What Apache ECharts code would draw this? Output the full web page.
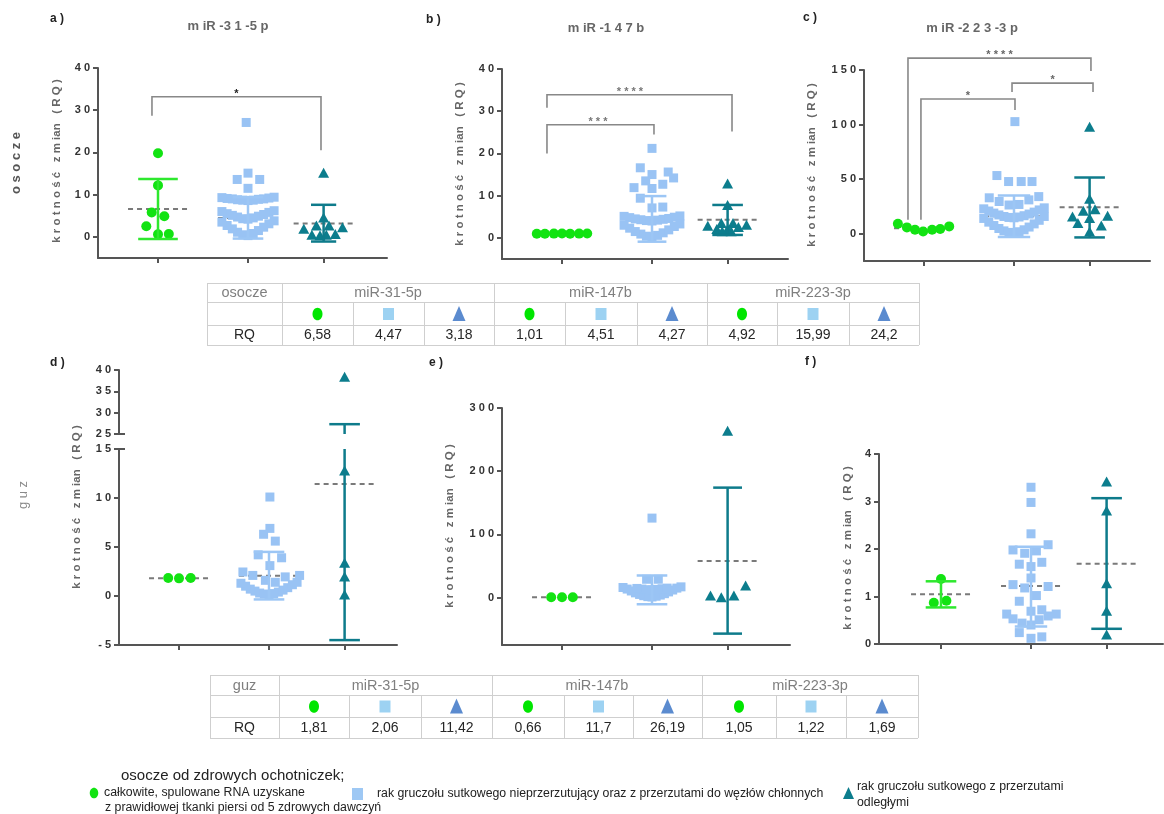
<!DOCTYPE html>
<html>
<head>
<meta charset="utf-8">
<title>krotność zmian (RQ)</title>
<script src="https://cdn.jsdelivr.net/npm/echarts@6.0.0/dist/echarts.min.js"></script>
<style>
html,body{margin:0;padding:0;background:#fff;}
#chart{width:1164px;height:814px;}
</style>
</head>
<body>
<div id="chart"></div>
<script>
// ================= DATA =================
// x position of the three groups (green: healthy, blue: non-metastatic/lymph node, teal: distant metastases)
const groupX = [1, 2, 2.84];

// Points: [horizontal offset in % of group spacing, RQ]
// Dense rows: explicit RQ values, spread side by side inside a row
// ---- a) miR-31-5p, osocze
const aGreen = [[0,19.8],[0,12.2],[-7,5.8],[7,4.9],[-13,2.5],[0,0.6],[12,0.7]];
const aBlue = [[-2,27.1],[0,15.1],[-12,13.6],[13,13.6],[0,11.5]];
const aBlueRows = [
  [8.6,8.7,8.7,8.8,8.9,9.0,9.0,9.1,9.2,9.3,9.4],
  [4.2,4.3,4.5,4.7,4.9,5.1,5.3,5.5,5.8,6.0,6.2],
  [0.3,0.5,0.8,1.1,1.5,1.9,2.3,2.7,3.1,3.5,3.8]
];
const aTeal = [[0,15.2],[0,4.6],[-22,1.9],[-8,2.7],[6,2.7],[21,2.3],[-13,0.5],[-4,0.4],[3,0.5],[13,0.7]];
const aMean = [6.58, 4.47, 3.18];
const aSD = [[-0.5,13.7],[-0.4,9.4],[-1.1,7.6]];
const aSig = [[0.933,28.7,2.811,20.5,33.2,1.872]];   // [x left, left leg end, x right, right leg end, bar level, star x]
const aStars = ['*'];

// ---- b) miR-147b, osocze
const bGreen = [[-28,1.0],[-19,1.0],[-9,1.01],[0,1.02],[9,1.0],[19,1.01],[28,1.03]];
const bBlue = [[0,21.2],[-13,16.6],[18,15.6],[0,15.0],[24,14.2],[-7,13.5],[12,12.7],[-20,11.9],[0,11.7],[-13,9.4],[0,7.1],[12,7.3]];
const bBlueRows = [
  [4.0,4.1,4.2,4.3,4.4,4.5,4.6,4.8,4.9,5.1,5.2],
  [0.2,0.4,0.6,0.9,1.2,1.5,1.9,2.3,2.7,3.0,3.3]
];
const bTeal = [[0,12.9],[0,7.8],[-22,2.9],[-12,2.1],[-7,3.5],[0,2.1],[6,3.5],[12,2.6],[21,3.1],[-6,1.6],[4,1.6]];
const bMean = [1.01, 4.51, 4.27];
const bSD = [null,[-0.9,9.9],[0.7,7.8]];
const bSig = [[0.833,30.8,2.889,25.2,33.9,1.755],[0.833,20.0,2.022,24.5,26.8,1.40]];
const bStars = ['* * * *','* * *'];

// ---- c) miR-223-3p, osocze
const cGreen = [[-29,9.1],[-19,5.8],[-10,3.7],[-1,2.1],[9,3.7],[18,4.3],[28,6.7]];
const cBlue = [[1,102.7],[-19,53.3],[-6,47.8],[8,47.8],[20,47.8]];
const cBlueRows = [
  [26.3,26.8,29.5,31.0,32.9,34.0],
  [14.6,14.9,15.3,15.8,16.5,17.2,18.0,18.9,19.8,20.8,21.8,22.8,23.7],
  [0.9,1.2,1.8,2.6,3.6,4.8,6.1,7.5,9.0,10.6,12.3,14.0,15.8]
];
const cTeal = [[0,98.1],[0,32],[-7,21],[6,22.5],[-19,15.8],[20,16.5],[-13,9.8],[0,14.4],[13,7.6],[0,2.1]];
const cMean = [4.92, 15.99, 24.2];
const cSD = [null,[-3,35],[-3.4,51.5]];
const cSig = [[0.822,12.8,2.855,149,160.9,1.839],[0.966,12.8,2.011,113.3,123.4,1.489],[1.978,129.8,2.878,129.8,138,2.428]];
const cStars = ['* * * *','*','*'];

// ---- d) miR-31-5p, guz (broken axis 15 | 25)
const dGreen = [[-12,1.84],[0,1.80],[13,1.84]];
const dBlue = [[1,10.1],[1,6.9],[-6,6.3],[7,5.6],[-12,4.2],[14,3.9],[1,3.1],[-29,2.45],[-18,2.1],[-4,1.6],[7,1.4],[18,1.95],[34,2.1]];
const dBlueRows = [[0.15,0.2,0.25,0.3,0.4,0.5,0.6,0.7,0.85,1.0,1.15,1.3,1.4]];
const dTeal = [[0,38.4],[0,12.8],[0,3.4],[0,2.0],[0,0.15]];
const dMean = [1.81, 2.06, 11.42];
const dSD = [null,[-0.35,4.5],[-4.5,27.3]];

// ---- e) miR-147b, guz
const eGreen = [[-12,0.66],[0,0.66],[12,0.66]];
const eBlue = [[0,125.8],[-6,29],[7,29]];
const eBlueRows = [
  [1,1.5,2.2,3,4,5,6.2,7.5,9,10.5,12,13.5,15,16,17],
  [12,12.5,13,13.5,14,14.5,15]
];
const eTeal = [[0,264],[20,19],[-19,3.2],[-7,0.6],[7,3.2]];
const eMean = [0.66, 12.2, 58.1];
const eSD = [null,[-10.5,35],[-57,174]];

// ---- f) miR-223-3p, guz
const fGreen = [[0,1.37],[-8,0.87],[6,0.91]];
const fBlue = [[0,3.30],[0,2.98],[0,2.32],[-20,1.98],[-7,1.91],[6,1.96],[19,2.09],[-13,1.68],[0,1.63],[12,1.72],
  [0,1.39],[-20,1.25],[-7,1.18],[19,1.21],[6,1.02],[-13,0.90],[0,0.69],[12,0.72],[-27,0.63],[-20,0.53],
  [-10,0.44],[0,0.40],[9,0.51],[19,0.59],[28,0.63],[-13,0.24],[0,0.12],[12,0.15]];
const fTeal = [[0,3.42],[0,2.81],[0,1.28],[0,0.70],[0,0.20]];
const fMean = [1.05, 1.22, 1.69];
const fSD = [[0.77,1.32],[0.37,2.05],[0.32,3.07]];

// ---- tables
const tableGenes = ['miR-31-5p','miR-147b','miR-223-3p'];
const rqPlasma = ['6,58','4,47','3,18','1,01','4,51','4,27','4,92','15,99','24,2'];
const rqTumor  = ['1,81','2,06','11,42','0,66','11,7','26,19','1,05','1,22','1,69'];

// ---- texts
const panelTitles = ['m iR -3 1 -5 p','m iR -1 4 7 b','m iR -2 2 3 -3 p'];
const panelLetters = ['a )','b )','c )','d )','e )','f )'];
const yName = 'k r o t n o ś ć   z m ian   ( R Q )';
const legendTitle = 'osocze od zdrowych ochotniczek;';
const legendGreen = ['całkowite, spulowane RNA uzyskane','z prawidłowej tkanki piersi od 5 zdrowych dawczyń'];
const legendBlue = 'rak gruczołu sutkowego nieprzerzutujący oraz z przerzutami do węzłów chłonnych';
const legendTeal = ['rak gruczołu sutkowego z przerzutami','odległymi'];

// ================= LAYOUT / STYLE =================
const FONT = '"Liberation Sans", Arial, Helvetica, sans-serif';
const COL = {green:'#12e312', blue:'#99c3f4', teal:'#0c7d8d'};
const ERRC = ['#2ee82e','#9cc6f5','#0e7b8b'];
const AX = '#555';
const SYM = {circle:10, rect:9, tri:[11,10]};

const PANELS = [
 {left:98,  top:68,  width:289, height:190, min:-5,  max:40,  ticks:[0,10,20,30,40], x0:60},
 {left:502, top:69,  width:286, height:190, min:-5,  max:40,  ticks:[0,10,20,30,40], x0:60},
 {left:864, top:70,  width:286, height:191, min:-25, max:150, ticks:[0,50,100,150], x0:60},
 {left:119, top:370, width:278, height:64,  min:25,  max:40,  ticks:[25,30,35,40], x0:60, noX:true},
 {left:119, top:449, width:278, height:196, min:-5,  max:15,  ticks:[-5,0,5,10,15], x0:60},
 {left:502, top:408, width:288, height:237, min:-75, max:300, ticks:[0,100,200,300], x0:60},
 {left:879, top:454, width:284, height:190, min:0,   max:4,   ticks:[0,1,2,3,4], x0:62},
];
PANELS.forEach(p => { p.xMin = 1 - p.x0/90; p.xMax = p.xMin + p.width/90; });

const spaced = v => String(v).split('').join(' ');

function layRow(vals, step){
  const s = vals.slice().sort((a,b)=>a-b), n = s.length, out = [];
  for(let k=0;k<n;k++){
    let off;
    if(n%2){ const m = Math.ceil(k/2); off = k===0 ? 0 : (k%2 ? -m : m); }
    else { const m = Math.floor(k/2)+0.5; off = k%2 ? m : -m; }
    out.push([off*step, s[k]]);
  }
  return out;
}
const pts = (g, list) => list.map(p => [groupX[g] + p[0]/100, p[1]]);
function rowPts(g, rows, steps){
  let out = [];
  rows.forEach((r,i) => layRow(r, steps[i]).forEach(p => out.push([groupX[g] + p[0]/100, p[1]])));
  return out;
}

const series = [];
function scatter(gi, symbol, size, color, data){
  series.push({type:'scatter', xAxisIndex:gi, yAxisIndex:gi, symbol, symbolSize:size, z:3, silent:true,
    itemStyle:{color, opacity:1, borderWidth:0}, data});
}
function meanSeries(gi, means){
  series.push({type:'custom', xAxisIndex:gi, yAxisIndex:gi, z:2, silent:true, clip:false,
    data: means.map((m,g) => [groupX[g], m]),
    renderItem:(params, api) => {
      const x = api.value(0), y = api.value(1);
      const a = api.coord([x-0.333, y]), b = api.coord([x+0.333, y]);
      return {type:'line', shape:{x1:a[0],y1:a[1],x2:b[0],y2:b[1]},
        style:{stroke:'#7a7a7a', lineWidth:2, lineDash:[5,4]}};
    }});
}
function errSeries(gi, items){
  series.push({type:'custom', xAxisIndex:gi, yAxisIndex:gi, z:4, silent:true, clip:false,
    data: items,
    renderItem:(params, api) => {
      const x=api.value(0), lo=api.value(1), hi=api.value(2), cw=api.value(3), tc=api.value(4), bc=api.value(5);
      const st = {stroke:ERRC[api.value(6)], lineWidth:2.5};
      const a = api.coord([x,lo]), b = api.coord([x,hi]);
      const ch = [{type:'line', shape:{x1:a[0],y1:a[1],x2:b[0],y2:b[1]}, style:st}];
      if(tc){ const l=api.coord([x-cw,hi]), r=api.coord([x+cw,hi]); ch.push({type:'line', shape:{x1:l[0],y1:l[1],x2:r[0],y2:r[1]}, style:st}); }
      if(bc){ const l=api.coord([x-cw,lo]), r=api.coord([x+cw,lo]); ch.push({type:'line', shape:{x1:l[0],y1:l[1],x2:r[0],y2:r[1]}, style:st}); }
      return {type:'group', children:ch};
    }});
}
function sdItems(sd, caps){
  const out = [];
  sd.forEach((s,g) => { if(s) out.push([groupX[g], s[0], s[1], caps[g]/100, 1, 1, g]); });
  return out;
}
function sigSeries(gi, sig, stars, starColor){
  series.push({type:'custom', xAxisIndex:gi, yAxisIndex:gi, z:5, silent:true, clip:false,
    data: sig,
    renderItem:(params, api) => {
      const xl=api.value(0), yl=api.value(1), xr=api.value(2), yr=api.value(3), yb=api.value(4), xs=api.value(5);
      const p1=api.coord([xl,yl]), p2=api.coord([xl,yb]), p3=api.coord([xr,yb]), p4=api.coord([xr,yr]), ps=api.coord([xs,yb]);
      return {type:'group', children:[
        {type:'polyline', shape:{points:[p1,p2,p3,p4]}, style:{stroke:'#888', lineWidth:1.6, fill:null}},
        {type:'text', x:ps[0], y:ps[1]-3, style:{text:stars[params.dataIndex], fill:starColor,
          font:'bold 11px '+FONT, align:'center', verticalAlign:'middle'}}
      ]};
    }});
}
function addPanel(gi, green, blue, blueRows, steps, teal, mean, sd, caps){
  meanSeries(gi, mean);
  scatter(gi, 'circle', SYM.circle, COL.green, pts(0, green));
  scatter(gi, 'rect', SYM.rect, COL.blue, rowPts(1, blueRows, steps).concat(pts(1, blue)));
  scatter(gi, 'triangle', SYM.tri, COL.teal, pts(2, teal));
  errSeries(gi, sdItems(sd, caps));
}

// panels a, b, c (plasma)
addPanel(0, aGreen, aBlue, aBlueRows, [5.8,5.8,5.8], aTeal, aMean, aSD, [22,17,14]);
sigSeries(0, aSig, aStars, '#222');
addPanel(1, bGreen, bBlue, bBlueRows, [6.2,6.2], bTeal, bMean, bSD, [17,16,17]);
sigSeries(1, bSig, bStars, '#777');
addPanel(2, cGreen, cBlue, cBlueRows, [11,5.6,5.6], cTeal, cMean, cSD, [17,18,17]);
sigSeries(2, cSig, cStars, '#666');

// panel d (broken axis: upper grid 3 for RQ >= 25, lower grid 4 otherwise)
{
  const up = p => p[1] >= 25, low = p => p[1] < 25;
  meanSeries(4, dMean);
  scatter(4, 'circle', SYM.circle, COL.green, pts(0, dGreen));
  scatter(4, 'rect', SYM.rect, COL.blue, rowPts(1, dBlueRows, [5.2]).concat(pts(1, dBlue)));
  scatter(4, 'triangle', SYM.tri, COL.teal, pts(2, dTeal.filter(low)));
  scatter(3, 'triangle', SYM.tri, COL.teal, pts(2, dTeal.filter(up)));
  const lowItems = [], upItems = [];
  dSD.forEach((s,g) => {
    if(!s) return;
    if(s[1] > 25){
      upItems.push([groupX[g], 25, s[1], 0.17, 1, 0, g]);
      lowItems.push([groupX[g], s[0], 15, 0.17, 0, 1, g]);
    } else lowItems.push([groupX[g], s[0], s[1], 0.17, 1, 1, g]);
  });
  errSeries(4, lowItems);
  errSeries(3, upItems);
  // axis break marks
  [[3,25],[4,15]].forEach(([gi,v]) => {
    series.push({type:'custom', xAxisIndex:gi, yAxisIndex:gi, z:6, silent:true, clip:false,
      data:[[PANELS[gi].xMin, v]],
      renderItem:(params, api) => {
        const c = api.coord([api.value(0), api.value(1)]);
        return {type:'line', shape:{x1:c[0]-4,y1:c[1],x2:c[0]+6,y2:c[1]}, style:{stroke:AX, lineWidth:2}};
      }});
  });
}
// panels e, f (tumour)
addPanel(5, eGreen, eBlue, eBlueRows, [4.6,5.6], eTeal, eMean, eSD, [17,17,16]);
addPanel(6, fGreen, fBlue, [], [], fTeal, fMean, fSD, [17,18,17]);

// ================= GRAPHIC (texts, tables, legend) =================
const G = [];
function T(text, x, y, font, color, align, rot){
  G.push({type:'text', x, y, rotation:rot||0, z:100, silent:true,
    style:{text, font, fill:color, align:align||'left', verticalAlign:'middle'}});
}
function L(x1,y1,x2,y2,color,w){
  G.push({type:'line', silent:true, z:90, shape:{x1,y1,x2,y2}, style:{stroke:color, lineWidth:w||1}});
}
// panel letters
[[50,19],[426,20],[803,18],[50,363],[429,363],[805,362]].forEach((p,i) =>
  T(panelLetters[i], p[0], p[1], 'bold 12px '+FONT, '#222', 'left'));
// titles
[[228,26],[606,28],[972,28]].forEach((p,i) => T(panelTitles[i], p[0], p[1], 'bold 13px '+FONT, '#666', 'center'));
// y axis names
[[57,161],[460,164],[812,165],[77,507],[450,526],[848,548]].forEach(p =>
  T(yName, p[0], p[1], 'bold 11.5px '+FONT, '#666', 'center', Math.PI/2));
// row labels
T('o s o c z e', 16, 163, 'bold 13px '+FONT, '#555', 'center', Math.PI/2);
T('g u z', 23, 495, '13px '+FONT, '#8a8a8a', 'center', Math.PI/2);

// tables
const LINE = '#cfcfcf';
function icon(kind, cx, cy, scale){
  const s = scale || 1;
  if(kind === 0) G.push({type:'ellipse', silent:true, z:95, shape:{cx, cy, rx:5*s, ry:6.3*s}, style:{fill:'#00e600'}});
  else if(kind === 1) G.push({type:'rect', silent:true, z:95, shape:{x:cx-5.5*s, y:cy-6*s, width:11*s, height:12*s}, style:{fill:'#9dd2f2'}});
  else G.push({type:'polygon', silent:true, z:95, shape:{points:[[cx,cy-8*s],[cx-6.5*s,cy+7*s],[cx+6.5*s,cy+7*s]]}, style:{fill:'#5b8bcf'}});
}
function drawTable(cols, ys, label, vals){
  const [y0,y1,y2,y3] = ys, Lx = cols[0], Rx = cols[10];
  ys.forEach(y => L(Lx, y+0.5, Rx, y+0.5, LINE));
  [0,1,4,7,10].forEach(i => L(cols[i]+0.5, y0, cols[i]+0.5, y3, LINE));
  [2,3,5,6,8,9].forEach(i => L(cols[i]+0.5, y1, cols[i]+0.5, y3, LINE));
  const hy = (y0+y1)/2+0.5, iy = (y1+y2)/2+0.5, vy = (y2+y3)/2+0.5;
  const HF = '14.5px '+FONT, VF = '14px '+FONT;
  T(label, (cols[0]+cols[1])/2, hy, HF, '#7f7f7f', 'center');
  T('RQ', (cols[0]+cols[1])/2, vy, VF, '#262626', 'center');
  tableGenes.forEach((g,k) => T(g, (cols[1+3*k]+cols[4+3*k])/2, hy, HF, '#7f7f7f', 'center'));
  for(let k=0;k<9;k++){
    const cx = (cols[1+k]+cols[2+k])/2;
    icon(k%3, cx, iy);
    T(vals[k], cx, vy, VF, '#262626', 'center');
  }
}
drawTable([207,282,353,424,494,565,637,707,777,849,919],[283,302,325,345],'osocze',rqPlasma);
drawTable([210,279,349,421,492,564,633,702,776,846,918],[675,695,717,738],'guz',rqTumor);

// legend
T(legendTitle, 121, 776, '15px '+FONT, '#222', 'left');
icon(0, 94, 793, 0.85); G[G.length-1].style.fill = COL.green;
T(legendGreen[0], 104, 793, '12.3px '+FONT, '#222', 'left');
T(legendGreen[1], 105, 808, '12.3px '+FONT, '#222', 'left');
G.push({type:'rect', silent:true, z:95, shape:{x:352, y:788, width:11, height:12}, style:{fill:'#9ec8f4'}});
T(legendBlue, 377, 794, '12.3px '+FONT, '#222', 'left');
G.push({type:'polygon', silent:true, z:95, shape:{points:[[848.5,787],[843,799],[854,799]]}, style:{fill:COL.teal}});
T(legendTeal[0], 857, 787, '12.3px '+FONT, '#222', 'left');
T(legendTeal[1], 857, 803, '12.3px '+FONT, '#222', 'left');

// ================= OPTION =================
const option = {
  animation:false,
  backgroundColor:'#fff',
  grid: PANELS.map(p => ({left:p.left, top:p.top, width:p.width, height:p.height})),
  xAxis: PANELS.map((p,i) => ({
    type:'value', gridIndex:i, min:p.xMin, max:p.xMax, show:!p.noX,
    axisLine:{show:true, onZero:false, lineStyle:{color:AX, width:2}},
    axisTick:{show:true, customValues:groupX, length:5, lineStyle:{color:AX, width:2}},
    axisLabel:{show:false}, splitLine:{show:false}
  })),
  yAxis: PANELS.map((p,i) => ({
    type:'value', gridIndex:i, min:p.min, max:p.max,
    axisLine:{show:true, onZero:false, lineStyle:{color:AX, width:2}},
    axisTick:{show:true, customValues:p.ticks, length:5, lineStyle:{color:AX, width:2}},
    axisLabel:{customValues:p.ticks, formatter:v => spaced(v), color:'#333', fontWeight:'bold',
      fontSize:11, fontFamily:FONT, margin:8},
    splitLine:{show:false}
  })),
  series,
  graphic: G
};
const chart = echarts.init(document.getElementById('chart'), null, {renderer:'canvas'});
chart.setOption(option);
</script>
</body>
</html>
